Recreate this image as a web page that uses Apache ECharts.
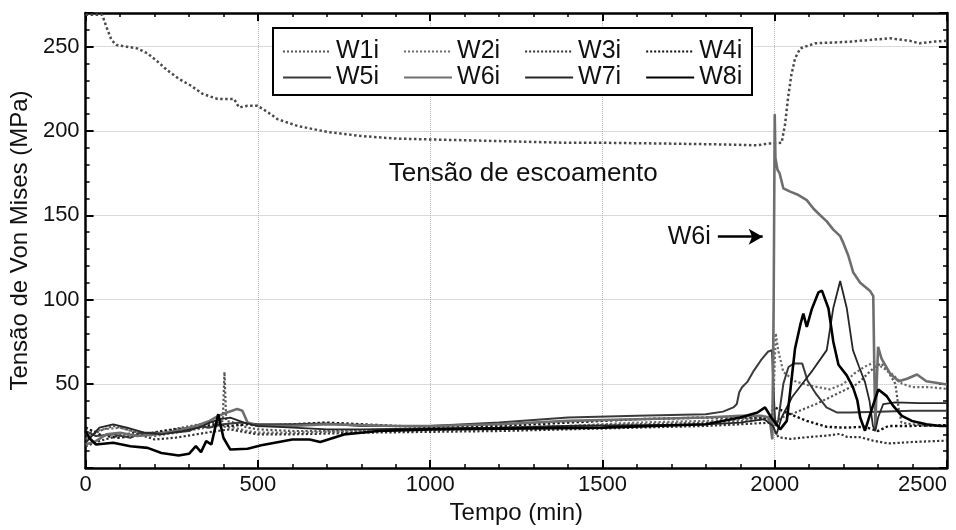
<!DOCTYPE html>
<html>
<head>
<meta charset="utf-8">
<script src="https://cdn.jsdelivr.net/npm/echarts@6/dist/echarts.min.js"></script>
<style>html,body{margin:0;padding:0;background:#fff}#c{width:956px;height:530px}</style>
</head>
<body>
<div id="c"></div>
<script>
// ---- data: [time (min), von Mises stress (MPa)] ----
const seriesNames = ['W1i','W2i','W3i','W4i','W5i','W6i','W7i','W8i'];
const yieldName = 'Tensão de escoamento';

const yieldCurve = [[0,269],[48,269],[60,262],[75,254],[90,251],[120,250],[150,249],[180,246],[210,241],[237,236],[270,231],[305,227],[340,222],[383,219],[431,219],[445,214],[470,215],[499,215],[530,211],[557,207],[615,203],[700,199.5],[800,197],[900,195.5],[1000,195],[1200,194],[1400,193],[1500,193],[1700,192.5],[1850,192],[1950,191.5],[1980,192.5],[2020,193],[2030,204],[2039,220],[2048,233],[2059,243],[2074,249],[2117,252],[2218,253],[2334,255],[2392,253.5],[2420,252],[2460,253],[2500,253.5]];

const w1i = [[0,17],[40,22],[80,25],[120,23],[170,20],[220,22],[280,24],[330,26],[380,27],[398,28],[403,57],[408,28],[430,27],[470,24],[500,23],[600,22],[700,22],[800,22.5],[900,23],[1000,23],[1200,24],[1400,25],[1600,26],[1800,27],[1900,28],[1980,29],[2000,27],[2020,30],[2060,33],[2120,38],[2180,44],[2240,50],[2290,60],[2310,62],[2330,57],[2350,50],[2360,35],[2368,27],[2400,26],[2450,25],[2500,25.5]];
const w2i = [[0,20],[50,23],[100,24],[150,21],[200,19],[260,21],[320,23],[380,25],[430,24],[470,22],[500,21],[600,21],[700,21.5],[800,22],[1000,22.5],[1200,23.5],[1400,25],[1600,27],[1800,28],[1900,29],[1990,30],[1997,45],[2003,80],[2010,70],[2025,57],[2060,51.5],[2100,49],[2160,46.7],[2200,50],[2230,56],[2260,60],[2290,63],[2310,60],[2340,56],[2370,50],[2400,48],[2450,48],[2500,47]];
const w3i = [[0,13],[40,16],[90,19],[140,21],[200,17],[260,18],[320,20],[380,22],[420,23],[470,21],[500,20],[600,20],[700,20.5],[800,21],[1000,21.5],[1200,22],[1400,23],[1600,24],[1800,25],[1900,26],[1990,27],[2000,22],[2011,18.3],[2045,17.3],[2093,18.3],[2151,19.3],[2190,20.3],[2210,18.5],[2248,18.3],[2285,16.3],[2330,14.6],[2400,15.5],[2500,16.3]];
const w4i = [[0,24],[40,20],[90,18],[140,19],[200,21],[260,23],[320,24],[380,26],[420,25],[470,26],[500,25],[600,26],[700,27],[800,26],[900,25],[1000,24.5],[1200,25],[1400,27],[1600,29],[1800,30],[1900,30],[1990,30],[2000,36],[2045,32],[2093,28],[2151,24.5],[2200,24],[2260,24.5],[2300,22],[2330,25],[2400,25],[2500,25.5]];
const w5i = [[0,22],[30,19],[80,20],[130,18],[160,21],[200,21],[250,21],[300,22],[330,25],[360,24],[400,26],[450,27],[500,26],[600,26],[700,26.5],[800,25],[900,25],[1000,25],[1200,27],[1400,30],[1600,31],[1800,32],[1850,33.5],[1880,36],[1890,38],[1897,45],[1905,48],[1920,51],[1940,58],[1960,64],[1980,69],[1992,70],[1998,40],[2002,25],[2010,28],[2025,50],[2040,60],[2055,62],[2080,62],[2095,52],[2120,44],[2150,36],[2180,33],[2220,33],[2300,33.5],[2400,34],[2500,34]];
const w6i = [[0,14],[30,16],[60,20],[100,21],[150,19],[200,20],[260,22],[320,25],[360,28],[385,31],[410,33],[440,35],[455,34],[470,27],[500,25],[600,25],[700,26],[800,25.5],[900,25],[1000,25],[1200,26],[1400,28],[1600,29],[1800,30],[1900,31],[1960,31],[1985,30],[1993,17],[1997,100],[2000,210],[2002,184],[2008,177],[2014,175],[2025,166],[2045,164],[2069,162],[2093,159],[2112,154],[2132,150],[2151,146.4],[2170,141.5],[2190,137.6],[2199,133.6],[2214,125.8],[2228,116],[2248,110],[2277,105],[2286,102],[2289,60],[2292,24],[2296,50],[2300,72],[2310,65],[2335,56],[2360,51.5],[2384,53],[2413,55.5],[2440,51.5],[2500,49.6]];
const w7i = [[0,15],[40,24],[80,26],[120,24],[170,21],[220,20],[280,22],[330,24],[360,27],[390,29],[420,30],[460,27],[500,25],[600,24],[700,23],[800,23],[1000,23.5],[1200,24],[1400,25],[1600,25.5],[1800,26],[1900,27],[1970,29],[1995,25],[2005,20],[2020,30],[2050,42],[2080,50],[2110,58],[2151,70],[2170,95],[2190,111],[2209,95],[2227,70],[2245,60],[2262,51],[2275,40],[2285,25],[2292,22],[2300,30],[2315,38],[2350,39],[2420,38.5],[2500,38.5]];
const w8i = [[0,22],[10,18],[30,14],[80,15],[130,13],[180,12],[220,9],[270,7.5],[300,8.5],[320,13],[335,9.5],[350,16],[365,14],[385,32],[400,18],[420,11],[470,11.5],[510,13.5],[600,17],[650,17],[681,15.5],[750,20],[800,21],[850,22],[1000,23],[1500,24],[1800,26],[1900,30],[1950,33],[1972,36],[1990,30],[2016,23],[2035,28],[2045,45.6],[2059,71],[2074,84.8],[2083,91.6],[2093,83.8],[2108,94.6],[2127,104.3],[2137,105.3],[2156,94.7],[2170,75],[2185,61.3],[2209,55],[2227,48],[2240,40],[2248,30],[2262,22.2],[2277,32],[2291,40.8],[2301,46.7],[2325,42.7],[2344,36.9],[2369,31],[2398,28],[2440,26],[2480,25],[2500,25]];

const annotText = 'Tensão de escoamento';
const annotPos = [1270, 174.6];
const arrowLabel = 'W6i';
const arrowLabelPos = [1752, 137.3];
const arrowFrom = [1835, 137.3];
const arrowTo = [1965, 137.3];

// ---- styles ----
const seriesData = [w1i,w2i,w3i,w4i,w5i,w6i,w7i,w8i];
const styles = [
  {color:'#555', width:2.2, type:'dotted'},
  {color:'#6a6a6a', width:2.2, type:'dotted'},
  {color:'#333', width:2.2, type:'dotted'},
  {color:'#111', width:2.4, type:'dotted'},
  {color:'#3a3a3a', width:2, type:'solid'},
  {color:'#6e6e6e', width:2.6, type:'solid'},
  {color:'#262626', width:1.8, type:'solid'},
  {color:'#000', width:2.6, type:'solid'}
];
const FONT = 'Liberation Sans, Arial, sans-serif';

const series = seriesNames.map((n,i)=>({
  name:n, type:'line', data:seriesData[i], symbol:'none', showSymbol:false,
  lineStyle:styles[i], itemStyle:{color:styles[i].color}, z: 3+i, silent:true
}));
// W6i arrow annotation
series[5].markLine = {
  silent:true, symbol:['none','arrow'], symbolSize:[12,14], animation:false,
  label:{show:false}, lineStyle:{color:'#000', width:2.5, type:'solid'},
  data:[[{coord:arrowFrom},{coord:arrowTo}]]
};
series[5].markPoint = {
  silent:true, symbol:'circle', symbolSize:1, itemStyle:{color:'rgba(0,0,0,0)'},
  label:{show:true, position:'inside', formatter:arrowLabel, fontSize:25, color:'#111', fontFamily:FONT},
  data:[{coord:arrowLabelPos}]
};
series.push({
  name:yieldName, type:'line', data:yieldCurve, symbol:'none', silent:true,
  lineStyle:{color:'#4a4a4a', width:2.5, type:'dotted'}, z:2,
  markPoint:{
    silent:true, symbol:'circle', symbolSize:1, itemStyle:{color:'rgba(0,0,0,0)'},
    label:{show:true, position:'inside', formatter:annotText, fontSize:26, color:'#111', fontFamily:FONT},
    data:[{coord:annotPos}]
  }
});

const tickCommon = {inside:true, length:8, lineStyle:{color:'#000', width:2}};
const minorCommon = {show:true, splitNumber:5, length:4, lineStyle:{color:'#000', width:1.5}};
const axisLineCommon = {show:true, onZero:false, lineStyle:{color:'#000', width:2.5}};
const splitCommon = {show:true, lineStyle:{color:'#b5b5b5', width:1, type:'dotted'}};
const legendCommon = {left:282, itemWidth:48, itemHeight:14, itemGap:24, padding:0, z:100,
  itemStyle:{opacity:0}, textStyle:{fontSize:25, color:'#111', fontFamily:FONT}, selectedMode:false};

const option = {
  animation:false,
  backgroundColor:'#fff',
  grid:{left:85, right:9, top:13, bottom:53, containLabel:false},
  graphic:[{type:'rect', z:90, shape:{x:273, y:28, width:479, height:67},
    style:{fill:'#fff', stroke:'#000', lineWidth:2}}],
  legend:[
    Object.assign({data:seriesNames.slice(0,4), top:39}, legendCommon),
    Object.assign({data:seriesNames.slice(4), top:65}, legendCommon)
  ],
  xAxis:[
    {type:'value', min:0, max:2500, interval:500, position:'bottom',
     name:'Tempo (min)', nameLocation:'middle', nameGap:29,
     nameTextStyle:{fontSize:24, color:'#111', fontFamily:FONT},
     axisLine:axisLineCommon, axisTick:tickCommon, minorTick:minorCommon, splitLine:splitCommon,
     axisLabel:{fontSize:22, color:'#111', margin:6, fontFamily:FONT, alignMaxLabel:'right',
       formatter:v => String(v)}},
    {type:'value', min:0, max:2500, interval:500, position:'top',
     axisLine:axisLineCommon, axisTick:tickCommon, minorTick:minorCommon, splitLine:{show:false},
     axisLabel:{show:false}}
  ],
  yAxis:[
    {type:'value', min:0, max:270, interval:50, position:'left',
     name:'Tensão de Von Mises (MPa)', nameLocation:'middle', nameGap:50,
     nameTextStyle:{fontSize:24, color:'#111', fontFamily:FONT},
     axisLine:axisLineCommon, axisTick:tickCommon, minorTick:minorCommon, splitLine:splitCommon,
     axisLabel:{fontSize:22, color:'#111', margin:6, fontFamily:FONT,
       formatter:v => (v > 0 && v % 50 === 0) ? String(v) : ''}},
    {type:'value', min:0, max:270, interval:50, position:'right',
     axisLine:axisLineCommon, axisTick:tickCommon, minorTick:minorCommon, splitLine:{show:false},
     axisLabel:{show:false}}
  ],
  series:series
};
const chart = echarts.init(document.getElementById('c'), null, {renderer:'canvas'});
chart.setOption(option);
</script>
</body>
</html>
